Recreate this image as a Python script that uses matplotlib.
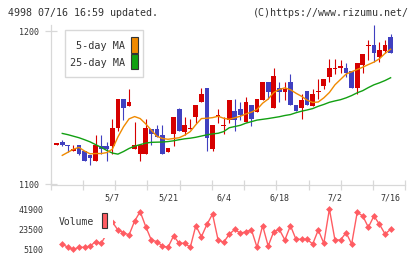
import matplotlib
matplotlib.use("Agg")
import matplotlib.pyplot as plt
import numpy as np
from matplotlib.patches import Rectangle

W, H, DPI = 420, 259, 100
nan = np.nan

# daily candles, oldest first (last one is 7/16)
opens = [1126, 1128, 1126, 1122, 1126, 1122, 1119, 1115, 1125, 1125,
         1125, 1137, 1156, 1151, 1123, 1120, 1120, 1136, 1136, 1132,
         1121, 1133, 1149, 1134, 1136, 1144, 1154, 1163, 1123, 1144,
         1138, 1142, 1148, 1149, 1141, 1152, 1147, 1155, 1167, 1150,
         1163, 1160, 1167, 1152, 1150, 1161, 1151, 1160, 1164, 1170,
         1175, 1176, 1176, 1174, 1163, 1178, 1190, 1191, 1183, 1187, 1196]
highs = [1127, 1129, 1126, 1126, 1126, 1122, 1119, 1132, 1132, 1128,
         1143, 1156, 1156, 1162, 1141, 1126, 1143, 1136, 1139, 1139,
         1124, 1144, 1150, 1144, 1143, 1152, 1163, 1163, 1139, 1149,
         1144, 1155, 1156, 1154, 1157, 1152, 1156, 1167, 1167, 1176,
         1167, 1167, 1172, 1152, 1159, 1161, 1162, 1169, 1169, 1182,
         1182, 1181, 1179, 1174, 1179, 1185, 1194, 1204, 1193, 1194, 1198]
lows = [1126, 1125, 1121, 1122, 1119, 1115, 1113, 1115, 1120, 1115,
        1120, 1135, 1142, 1151, 1123, 1115, 1120, 1126, 1131, 1120,
        1121, 1125, 1135, 1132, 1136, 1140, 1154, 1122, 1122, 1140,
        1133, 1140, 1135, 1142, 1141, 1138, 1147, 1155, 1156, 1150,
        1154, 1155, 1152, 1148, 1143, 1152, 1151, 1156, 1162, 1167,
        1172, 1173, 1170, 1163, 1159, 1173, 1181, 1180, 1180, 1186, 1186]
closes = [1127, 1126, 1125, 1123, 1120, 1115, 1117, 1126, 1123, 1123,
          1137, 1156, 1150, 1154, 1126, 1126, 1137, 1133, 1131, 1120,
          1124, 1144, 1135, 1139, 1137, 1152, 1159, 1130, 1139, 1145,
          1139, 1155, 1142, 1145, 1154, 1143, 1156, 1167, 1160, 1171,
          1160, 1162, 1152, 1148, 1155, 1152, 1159, 1161, 1169, 1176,
          1176, 1177, 1173, 1163, 1179, 1185, 1191, 1186, 1188, 1191, 1186]

ma5 = [nan, 1119, 1121, 1123, 1124.2, 1121.8, 1120, 1120.2, 1120.2, 1120.8,
       1123, 1131, 1137.6, 1142.8, 1144.3, 1143, 1139.5, 1135.4, 1131.5, 1130,
       1129.5, 1130, 1130.5, 1132.2, 1134.5, 1139, 1143, 1143.2, 1143.6, 1144.5,
       1143.2, 1142.5, 1143.5, 1144.5, 1146, 1147.2, 1149, 1153, 1155.7, 1160,
       1162, 1163, 1161.8, 1159.5, 1157.5, 1155, 1153.5, 1153.8, 1156.5, 1160,
       1165, 1168.5, 1172, 1173.5, 1175, 1176.5, 1178.2, 1179.8, 1182, 1185.5, 1188.2]
ma25 = [nan, 1133.3, 1132.5, 1131.5, 1130.5, 1129.2, 1127.8, 1126, 1124.2, 1122.2,
        1120.5, 1119.8, 1121.5, 1123.5, 1125, 1126, 1127, 1127.5, 1127.6, 1127.7,
        1128, 1128.5, 1129.2, 1129.8, 1130.2, 1130.8, 1131.6, 1132.4, 1133, 1133.4,
        1134.5, 1137, 1137.8, 1138.6, 1140, 1141, 1142, 1142.5, 1143, 1143.6,
        1144.2, 1145, 1145.6, 1146.8, 1147.8, 1148.6, 1149.5, 1151, 1152.2, 1153.6,
        1154.5, 1155.3, 1156.5, 1158, 1159.8, 1161.2, 1163.2, 1165, 1166.3, 1167.8, 1169.6]

volume = [nan, 9900, 6900, 5100, 6900, 6900, 8100, 12100, 10600, 19400,
          30000, 22700, 20300, 18200, 30900, 39500, 25800, 13600, 12100, 8100,
          6900, 17300, 10600, 10600, 6900, 26700, 16600, 27900, 37300, 13600,
          11500, 18800, 23300, 19700, 21200, 22700, 6900, 26700, 8100, 21200,
          23300, 13600, 26700, 14200, 14200, 14200, 9900, 22700, 10600, 41900,
          13600, 13600, 20300, 9900, 38900, 35500, 25200, 35500, 27900, 19100, 23300]

date_labels = ["5/7", "5/21", "6/4", "6/18", "7/2", "7/16"]
date_idx = [10, 20, 30, 40, 50, 60]
price_ticks = [1100, 1200]
vol_ticks = [5100, 23500, 41900]

RED = "#d60000"
BLUE = "#4040c0"
ORANGE = "#f08a00"
GREEN = "#12a012"
VOLC = "#ff5c62"
AXC = "#d8d8d8"
TXT = "#333333"

plt.rcParams["font.family"] = ["DejaVu Sans Mono"]


def fx(px):
    return px / W


def fy(py):
    return 1 - py / H


fig = plt.figure(figsize=(W / DPI, H / DPI), dpi=DPI)
ax = fig.add_axes([fx(50.7), fy(184.5), 354.6 / W, 159.5 / H])
vax = fig.add_axes([fx(50.7), fy(249.3), 354.6 / W, 40.3 / H])

x = np.arange(len(closes))
xlim = (-1.08, 62.64)

# candles
o = np.array(opens, float)
c = np.array(closes, float)
up = c >= o
cols = [RED if u else BLUE for u in up]
ax.vlines(x, lows, highs, colors=cols, lw=0.8, zorder=2)
body_h = np.maximum(np.abs(c - o), 0.7)
ax.bar(x, body_h, bottom=np.minimum(o, c), width=0.85, color=cols, lw=0, zorder=3)

ax.plot(x, ma25, color=GREEN, lw=1.0, zorder=4)
ax.plot(x, ma5, color=ORANGE, lw=1.0, zorder=4)

ax.set_xlim(*xlim)
ax.set_ylim(1100, 1204)
for s in ["top", "right"]:
    ax.spines[s].set_visible(False)
for s in ["left", "bottom"]:
    ax.spines[s].set_color(AXC)
    ax.spines[s].set_linewidth(0.9)

ax.set_xticks(np.linspace(xlim[0], xlim[1], 12))
ax.set_xticklabels([])
ax.tick_params(axis="x", which="major", direction="inout", length=6.5, width=0.9, color=AXC)
ax.set_xticks(date_idx, minor=True)
ax.set_xticklabels(date_labels, minor=True)
ax.tick_params(axis="x", which="minor", length=0, pad=6.3, labelsize=6, labelcolor=TXT)

ax.set_yticks(price_ticks)
ax.set_yticklabels([str(v) for v in price_ticks])
ax.tick_params(axis="y", direction="inout", length=8, width=0.9, color=AXC,
               pad=4.2, labelsize=6, labelcolor=TXT)

# volume panel
vax.plot(x, volume, color=VOLC, lw=1.0, marker="D", ms=3.5, mew=0,
         clip_on=False, zorder=3)
vax.set_xlim(*xlim)
vax.set_ylim(5100, 41900)
for s in vax.spines.values():
    s.set_visible(False)
vax.set_xticks([])
vax.set_yticks(vol_ticks)
vax.set_yticklabels([str(v) for v in vol_ticks])
vax.tick_params(axis="y", length=0, pad=5.3, labelsize=6, labelcolor=TXT)
vax.patch.set_alpha(0)

# header
fig.text(fx(8), fy(12.5), "4998 07/16 16:59 updated.", fontsize=7.2,
         color=TXT, va="center", ha="left")
fig.text(fx(408.5), fy(12.5), "(C)https://www.rizumu.net/", fontsize=7.2,
         color=TXT, va="center", ha="right")

# price legend
fig.add_artist(Rectangle((fx(65), fy(77.3)), 78.3 / W, 47.3 / H,
                         transform=fig.transFigure, facecolor="white",
                         edgecolor=AXC, lw=1.0, zorder=5))
fig.add_artist(Rectangle((fx(131), fy(52.7)), 6.7 / W, 15.4 / H,
                         transform=fig.transFigure, facecolor=ORANGE,
                         edgecolor="#333333", lw=0.8, zorder=6))
fig.add_artist(Rectangle((fx(131), fy(69.3)), 6.7 / W, 15.0 / H,
                         transform=fig.transFigure, facecolor=GREEN,
                         edgecolor="#333333", lw=0.8, zorder=6))
fig.text(fx(125.5), fy(46), "5-day MA", fontsize=7.3, color=TXT,
         ha="right", va="center", zorder=7)
fig.text(fx(125.5), fy(62.5), "25-day MA", fontsize=7.3, color=TXT,
         ha="right", va="center", zorder=7)

# volume legend (white box hides the points behind it)
fig.add_artist(Rectangle((fx(55), fy(237.5)), 58 / W, 31.5 / H,
                         transform=fig.transFigure, facecolor="white",
                         edgecolor="none", zorder=5))
fig.add_artist(Rectangle((fx(101.7), fy(228.3)), 5.6 / W, 15 / H,
                         transform=fig.transFigure, facecolor=VOLC,
                         edgecolor="#333333", lw=0.8, zorder=6))
fig.text(fx(59), fy(222), "Volume", fontsize=7, color=TXT,
         ha="left", va="center", zorder=7)

fig.savefig("out.png", dpi=DPI)
